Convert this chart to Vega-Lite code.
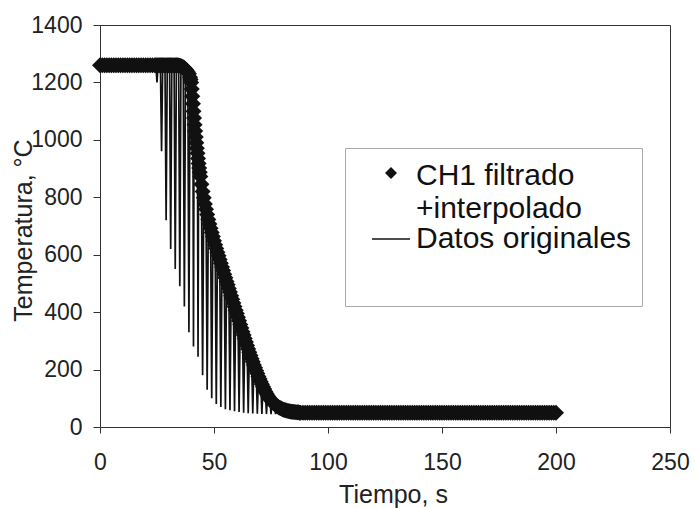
{
  "$schema": "https://vega.github.io/schema/vega-lite/v6.json",
  "width": 570,
  "height": 402,
  "autosize": "none",
  "padding": {"left": 100, "top": 25, "right": 25, "bottom": 81},
  "background": "white",
  "config": {
    "font": "Liberation Sans",
    "view": {"stroke": "#333", "strokeWidth": 1},
    "axis": {
      "grid": false,
      "labelFlush": false,
      "domainColor": "#333",
      "tickColor": "#333",
      "labelColor": "#222",
      "titleColor": "#222",
      "labelFont": "Liberation Sans",
      "titleFont": "Liberation Sans",
      "labelFontSize": 23,
      "titleFontSize": 25,
      "titleFontWeight": "normal"
    }
  },
  "data": {
    "values": [
      {"t":0,"f":1260,"o":1260},{"t":1,"f":1260,"o":1260},{"t":2,"f":1260,"o":1260},{"t":3,"f":1260,"o":1260},{"t":4,"f":1260,"o":1260},
      {"t":5,"f":1260,"o":1260},{"t":6,"f":1260,"o":1260},{"t":7,"f":1260,"o":1260},{"t":8,"f":1260,"o":1260},{"t":9,"f":1260,"o":1260},
      {"t":10,"f":1260,"o":1260},{"t":11,"f":1260,"o":1260},{"t":12,"f":1260,"o":1260},{"t":13,"f":1260,"o":1260},{"t":14,"f":1260,"o":1260},
      {"t":15,"f":1260,"o":1260},{"t":16,"f":1260,"o":1260},{"t":17,"f":1260,"o":1260},{"t":18,"f":1260,"o":1260},{"t":19,"f":1260,"o":1260},
      {"t":20,"f":1260,"o":1260},{"t":21,"f":1260,"o":1260},{"t":22,"f":1260,"o":1260},{"t":23,"f":1260,"o":1260},{"t":24,"f":1260,"o":1260},
      {"t":24.5,"f":1260,"o":1260},{"t":25,"f":1260,"o":1200},{"t":25.5,"f":1260,"o":1260},{"t":26,"f":1260,"o":1260},{"t":26.5,"f":1260,"o":1260},
      {"t":27,"f":1260,"o":960},{"t":27.5,"f":1260,"o":1260},{"t":28,"f":1260,"o":1260},{"t":28.5,"f":1260,"o":1260},
      {"t":29,"f":1260,"o":720},{"t":29.5,"f":1260,"o":1260},{"t":30,"f":1260,"o":1260},{"t":30.5,"f":1260,"o":1260},
      {"t":31,"f":1260,"o":620},{"t":31.5,"f":1260,"o":1260},{"t":32,"f":1260,"o":1260},{"t":32.5,"f":1260,"o":1260},
      {"t":33,"f":1260,"o":550},{"t":33.5,"f":1260,"o":1260},{"t":34,"f":1260,"o":1260},{"t":34.5,"f":1259,"o":1259},
      {"t":35,"f":1258,"o":490},{"t":35.5,"f":1257,"o":1257},{"t":36,"f":1255,"o":1255},{"t":36.5,"f":1253,"o":1253},
      {"t":37,"f":1250,"o":420},{"t":37.5,"f":1246,"o":1246},{"t":38,"f":1242,"o":1242},{"t":38.5,"f":1236,"o":1236},
      {"t":39,"f":1230,"o":330},{"t":39.5,"f":1218,"o":1218},{"t":39.75,"f":1210,"o":1210},{"t":40,"f":1200,"o":1200},
      {"t":40.25,"f":1177,"o":1177},{"t":40.5,"f":1152,"o":1152},{"t":40.75,"f":1126,"o":1126},
      {"t":41,"f":1100,"o":280},{"t":41.25,"f":1076,"o":1076},{"t":41.5,"f":1053,"o":1053},{"t":41.75,"f":1031,"o":1031},
      {"t":42,"f":1010,"o":1010},{"t":42.25,"f":990,"o":990},{"t":42.5,"f":971,"o":971},{"t":42.75,"f":953,"o":953},
      {"t":43,"f":935,"o":245},{"t":43.25,"f":918,"o":918},{"t":43.5,"f":902,"o":902},{"t":43.75,"f":887,"o":887},
      {"t":44,"f":872,"o":872},{"t":44.5,"f":845,"o":845},
      {"t":45,"f":820,"o":180},{"t":45.5,"f":798,"o":798},{"t":46,"f":777,"o":777},{"t":46.5,"f":758,"o":758},
      {"t":47,"f":740,"o":130},{"t":47.5,"f":723,"o":723},{"t":48,"f":707,"o":707},{"t":48.5,"f":692,"o":692},
      {"t":49,"f":677,"o":100},{"t":49.5,"f":663,"o":663},{"t":50,"f":649,"o":649},{"t":50.5,"f":635,"o":635},
      {"t":51,"f":622,"o":80},{"t":51.5,"f":609,"o":609},{"t":52,"f":596,"o":596},{"t":52.5,"f":583,"o":583},
      {"t":53,"f":570,"o":70},{"t":53.5,"f":557,"o":557},{"t":54,"f":545,"o":545},{"t":54.5,"f":532,"o":532},
      {"t":55,"f":520,"o":62},{"t":55.5,"f":507,"o":507},{"t":56,"f":495,"o":495},{"t":56.5,"f":482,"o":482},
      {"t":57,"f":470,"o":58},{"t":57.5,"f":457,"o":457},{"t":58,"f":445,"o":445},{"t":58.5,"f":432,"o":432},
      {"t":59,"f":420,"o":55},{"t":59.5,"f":407,"o":407},{"t":60,"f":395,"o":395},{"t":60.5,"f":382,"o":382},
      {"t":61,"f":370,"o":52},{"t":61.5,"f":357,"o":357},{"t":62,"f":345,"o":345},{"t":62.5,"f":332,"o":332},
      {"t":63,"f":320,"o":50},{"t":63.5,"f":308,"o":308},{"t":64,"f":296,"o":296},{"t":64.5,"f":284,"o":284},
      {"t":65,"f":272,"o":48},{"t":65.5,"f":260,"o":260},{"t":66,"f":249,"o":249},{"t":66.5,"f":238,"o":238},
      {"t":67,"f":227,"o":47},{"t":67.5,"f":216,"o":216},{"t":68,"f":206,"o":206},{"t":68.5,"f":196,"o":196},
      {"t":69,"f":186,"o":46},{"t":69.5,"f":176,"o":176},{"t":70,"f":167,"o":167},{"t":70.5,"f":158,"o":158},
      {"t":71,"f":149,"o":45},{"t":71.5,"f":140,"o":140},{"t":72,"f":132,"o":132},{"t":72.5,"f":124,"o":124},
      {"t":73,"f":117,"o":45},{"t":73.5,"f":110,"o":110},{"t":74,"f":104,"o":104},{"t":74.5,"f":98,"o":98},
      {"t":75,"f":93,"o":45},{"t":75.5,"f":88,"o":88},{"t":76,"f":84,"o":84},{"t":76.5,"f":80,"o":80},
      {"t":77,"f":77,"o":45},{"t":77.5,"f":74,"o":74},{"t":78,"f":71,"o":71},{"t":78.5,"f":68,"o":68},
      {"t":79,"f":66,"o":46},{"t":79.5,"f":64,"o":64},{"t":80,"f":62,"o":62},{"t":80.5,"f":60,"o":60},
      {"t":81,"f":59,"o":59},{"t":81.5,"f":58,"o":58},{"t":82,"f":57,"o":57},{"t":82.5,"f":56,"o":56},
      {"t":83,"f":55,"o":55},{"t":83.5,"f":54,"o":54},{"t":84,"f":53,"o":53},{"t":84.5,"f":53,"o":53},
      {"t":85,"f":52,"o":52},{"t":85.5,"f":52,"o":52},{"t":86,"f":51,"o":51},{"t":86.5,"f":51,"o":51},
      {"t":87,"f":51,"o":51},{"t":87.5,"f":50,"o":50},{"t":88,"f":50,"o":50},
      {"t":89,"f":50,"o":50},{"t":90,"f":50,"o":50},{"t":91,"f":50,"o":50},{"t":92,"f":50,"o":50},{"t":93,"f":50,"o":50},
      {"t":94,"f":50,"o":50},{"t":95,"f":50,"o":50},{"t":96,"f":50,"o":50},{"t":97,"f":50,"o":50},{"t":98,"f":50,"o":50},
      {"t":99,"f":50,"o":50},{"t":100,"f":50,"o":50},{"t":101,"f":50,"o":50},{"t":102,"f":50,"o":50},{"t":103,"f":50,"o":50},
      {"t":104,"f":50,"o":50},{"t":105,"f":50,"o":50},{"t":106,"f":50,"o":50},{"t":107,"f":50,"o":50},{"t":108,"f":50,"o":50},
      {"t":109,"f":50,"o":50},{"t":110,"f":50,"o":50},{"t":111,"f":50,"o":50},{"t":112,"f":50,"o":50},{"t":113,"f":50,"o":50},
      {"t":114,"f":50,"o":50},{"t":115,"f":50,"o":50},{"t":116,"f":50,"o":50},{"t":117,"f":50,"o":50},{"t":118,"f":50,"o":50},
      {"t":119,"f":50,"o":50},{"t":120,"f":50,"o":50},{"t":121,"f":50,"o":50},{"t":122,"f":50,"o":50},{"t":123,"f":50,"o":50},
      {"t":124,"f":50,"o":50},{"t":125,"f":50,"o":50},{"t":126,"f":50,"o":50},{"t":127,"f":50,"o":50},{"t":128,"f":50,"o":50},
      {"t":129,"f":50,"o":50},{"t":130,"f":50,"o":50},{"t":131,"f":50,"o":50},{"t":132,"f":50,"o":50},{"t":133,"f":50,"o":50},
      {"t":134,"f":50,"o":50},{"t":135,"f":50,"o":50},{"t":136,"f":50,"o":50},{"t":137,"f":50,"o":50},{"t":138,"f":50,"o":50},
      {"t":139,"f":50,"o":50},{"t":140,"f":50,"o":50},{"t":141,"f":50,"o":50},{"t":142,"f":50,"o":50},{"t":143,"f":50,"o":50},
      {"t":144,"f":50,"o":50},{"t":145,"f":50,"o":50},{"t":146,"f":50,"o":50},{"t":147,"f":50,"o":50},{"t":148,"f":50,"o":50},
      {"t":149,"f":50,"o":50},{"t":150,"f":50,"o":50},{"t":151,"f":50,"o":50},{"t":152,"f":50,"o":50},{"t":153,"f":50,"o":50},
      {"t":154,"f":50,"o":50},{"t":155,"f":50,"o":50},{"t":156,"f":50,"o":50},{"t":157,"f":50,"o":50},{"t":158,"f":50,"o":50},
      {"t":159,"f":50,"o":50},{"t":160,"f":50,"o":50},{"t":161,"f":50,"o":50},{"t":162,"f":50,"o":50},{"t":163,"f":50,"o":50},
      {"t":164,"f":50,"o":50},{"t":165,"f":50,"o":50},{"t":166,"f":50,"o":50},{"t":167,"f":50,"o":50},{"t":168,"f":50,"o":50},
      {"t":169,"f":50,"o":50},{"t":170,"f":50,"o":50},{"t":171,"f":50,"o":50},{"t":172,"f":50,"o":50},{"t":173,"f":50,"o":50},
      {"t":174,"f":50,"o":50},{"t":175,"f":50,"o":50},{"t":176,"f":50,"o":50},{"t":177,"f":50,"o":50},{"t":178,"f":50,"o":50},
      {"t":179,"f":50,"o":50},{"t":180,"f":50,"o":50},{"t":181,"f":50,"o":50},{"t":182,"f":50,"o":50},{"t":183,"f":50,"o":50},
      {"t":184,"f":50,"o":50},{"t":185,"f":50,"o":50},{"t":186,"f":50,"o":50},{"t":187,"f":50,"o":50},{"t":188,"f":50,"o":50},
      {"t":189,"f":50,"o":50},{"t":190,"f":50,"o":50},{"t":191,"f":50,"o":50},{"t":192,"f":50,"o":50},{"t":193,"f":50,"o":50},
      {"t":194,"f":50,"o":50},{"t":195,"f":50,"o":50},{"t":196,"f":50,"o":50},{"t":197,"f":50,"o":50},{"t":198,"f":50,"o":50},
      {"t":199,"f":50,"o":50},{"t":200,"f":50,"o":50}
    ]
  },
  "encoding": {
    "x": {
      "field": "t",
      "type": "quantitative",
      "scale": {"domain": [0, 250], "nice": false, "zero": false},
      "axis": {
        "values": [0, 50, 100, 150, 200, 250],
        "title": "Tiempo, s",
        "tickSize": 6,
        "labelPadding": 18,
        "labelBaseline": "top",
        "titleBaseline": "alphabetic",
        "titleY": 75,
        "titleX": 293
      }
    }
  },
  "layer": [
    {
      "mark": {"type": "line", "strokeWidth": 1.7, "interpolate": "linear"},
      "encoding": {
        "y": {
          "field": "o",
          "type": "quantitative",
          "scale": {"domain": [0, 1400], "nice": false},
          "axis": {
            "values": [0, 200, 400, 600, 800, 1000, 1200, 1400],
            "format": "d",
            "title": "Temperatura, °C",
            "tickSize": 7,
            "labelPadding": 11,
            "titleAngle": 270,
            "titleBaseline": "alphabetic",
            "titleAlign": "center",
            "titleX": -69,
            "titleY": 205
          }
        },
        "color": {
          "datum": "Datos originales",
          "type": "nominal",
          "scale": {"domain": ["CH1 filtrado +interpolado", "Datos originales"], "range": ["#111111", "#111111"]},
          "legend": {
            "orient": "none",
            "legendX": 245,
            "legendY": 123,
            "title": " ",
            "titleOrient": "bottom",
            "titleFontSize": 24,
            "titlePadding": 18,
            "direction": "vertical",
            "padding": 10,
            "symbolOffset": 21,
            "labelFont": "Liberation Sans",
            "labelFontSize": 30,
            "labelColor": "#111",
            "labelLimit": 400,
            "labelOffset": 10,
            "rowPadding": 0,
            "labelExpr": "datum.label == 'CH1 filtrado +interpolado' ? ['CH1 filtrado', '+interpolado'] : datum.label",
            "symbolType": "stroke",
            "symbolSize": 1444,
            "symbolStrokeWidth": 1.3,
            "symbolStrokeColor": "#111",
            "strokeColor": "#aaaaaa",
            "fillColor": "white",
            "encode": {
              "symbols": {
                "update": {
                  "shape": {"signal": "datum.value === 'CH1 filtrado +interpolado' ? 'diamond' : 'stroke'"},
                  "size": {"signal": "datum.value === 'CH1 filtrado +interpolado' ? 144 : 1444"},
                  "fill": {"signal": "datum.value === 'CH1 filtrado +interpolado' ? '#111' : 'transparent'"},
                  "stroke": {"value": "#111"},
                  "strokeWidth": {"signal": "datum.value === 'CH1 filtrado +interpolado' ? 0 : 1.3"},
                  "opacity": {"value": 1}
                }
              },
              "labels": {
                "update": {
                  "lineHeight": {"value": 33},
                  "dy": {"signal": "datum.value === 'CH1 filtrado +interpolado' ? 3 : 0"}
                }
              }
            }
          }
        }
      }
    },
    {
      "mark": {"type": "point", "shape": "diamond", "filled": true, "size": 256, "opacity": 1, "strokeWidth": 0},
      "encoding": {
        "y": {"field": "f", "type": "quantitative"},
        "color": {"datum": "CH1 filtrado +interpolado", "type": "nominal"}
      }
    }
  ]
}
